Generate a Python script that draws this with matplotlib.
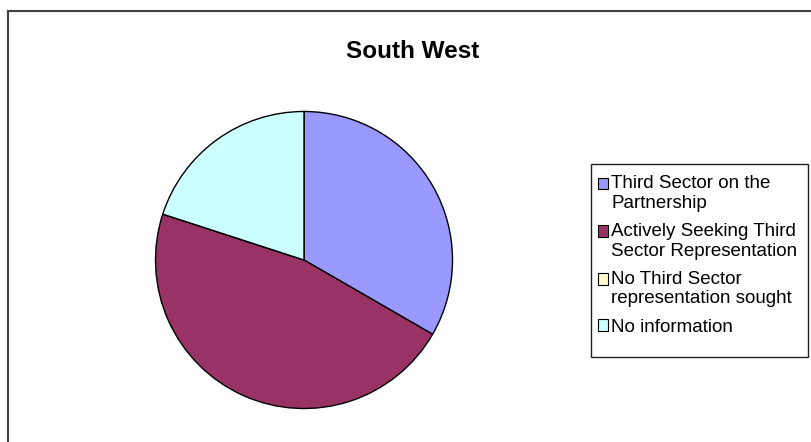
import matplotlib
matplotlib.use("Agg")
import matplotlib.pyplot as plt
from matplotlib.lines import Line2D
from matplotlib.patches import Patch, Rectangle
from matplotlib.legend_handler import HandlerPatch

# data
labels = ["Third Sector on the\nPartnership",
          "Actively Seeking Third\nSector Representation",
          "No Third Sector\nrepresentation sought",
          "No information"]
values = [5, 7, 0, 3]
colors = ["#9999FF", "#993366", "#FFFFCC", "#CCFFFF"]

plt.rcParams['font.family'] = ['Liberation Sans', 'DejaVu Sans']

W, H = 812, 442
fig = plt.figure(figsize=(W / 100, H / 100), dpi=100)

# chart frame (only left and top edges visible in the crop)
fig.add_artist(Line2D([8 / W, 8 / W], [0, 1 - 11 / H], color="#404040", lw=1.5))
fig.add_artist(Line2D([8 / W, 1], [1 - 11 / H, 1 - 11 / H], color="#404040", lw=1.5))

fig.text(413 / W, 1 - 52 / H, "South West", ha="center", va="center",
         fontsize=17.5, fontweight="bold")

# pie, centre ~(304, 260), radius ~150 px
cx, cy, r = 304, 260, 150
ax = fig.add_axes([(cx - r) / W, (H - cy - r) / H, 2 * r / W, 2 * r / H])
ax.pie(values, colors=colors, startangle=90, counterclock=False,
       wedgeprops=dict(edgecolor="black", linewidth=1))
ax.set_aspect("equal")
ax.set_xlim(-1.01, 1.01)
ax.set_ylim(-1.01, 1.01)
ax.axis("off")


# Excel puts the swatch next to the first line of a wrapped label
def first_line_patch(legend, orig_handle, xdescent, ydescent, width, height, fontsize):
    return Rectangle((-xdescent, -ydescent + 7.2), width, height)


# legend box drawn separately (Excel leaves extra room at the bottom)
fig.add_artist(Rectangle((591 / W, 1 - 357 / H), 217 / W, 193 / H,
                         transform=fig.transFigure, fill=False,
                         edgecolor="#202020", linewidth=1))
handles = [Patch(facecolor=c, edgecolor="black", linewidth=0.8) for c in colors]
hmap = {h: HandlerPatch(patch_func=first_line_patch)
        for h, lab in zip(handles, labels) if "\n" in lab}
leg = fig.legend(handles, labels, loc="upper left",
                 bbox_to_anchor=(591 / W, 1 - 168 / H),
                 fontsize=13.5, frameon=False, handler_map=hmap,
                 handlelength=0.55, handleheight=0.55,
                 handletextpad=0.15, labelspacing=0.6, borderpad=0.38,
                 borderaxespad=0)
for t in leg.get_texts():
    t.set_linespacing(1.2)

fig.savefig("out.png", dpi=100)
